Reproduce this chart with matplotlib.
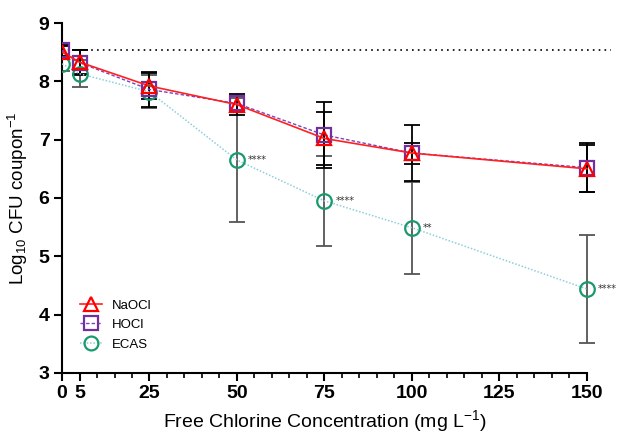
import matplotlib
import numpy as np

matplotlib.use("Agg")
import matplotlib.pyplot as plt
from matplotlib.ticker import FixedLocator

plt.rcParams["font.family"] = ["Liberation Sans", "DejaVu Sans"]
plt.rcParams["mathtext.fontset"] = "custom"
plt.rcParams["mathtext.rm"] = "Liberation Sans"
plt.rcParams["mathtext.it"] = "Liberation Sans:italic"

conc = [0, 5, 25, 50, 75, 100, 150]

naocl = [8.50, 8.33, 7.92, 7.60, 7.02, 6.77, 6.50]
naocl_err = [0.10, 0.20, 0.22, 0.18, 0.45, 0.18, 0.40]
hocl = [8.53, 8.32, 7.86, 7.62, 7.08, 6.77, 6.52]
hocl_err = [0.10, 0.22, 0.30, 0.13, 0.57, 0.48, 0.42]
ecas = [8.30, 8.13, 7.82, 6.65, 5.95, 5.49, 4.44]
ecas_err = [0.13, 0.23, 0.28, 1.07, 0.77, 0.79, 0.92]

sig_x = [50, 75, 100, 150]
sig_y = [6.65, 5.95, 5.49, 4.44]
sig_label = ["****", "****", "**", "****"]

control_level = 8.54

fig = plt.figure(figsize=(6.17, 4.34), dpi=100)
ax = fig.add_axes([0.1005, 0.1406, 0.8905, 0.8064])

ax.axhline(control_level, color="black", linestyle=(0, (1, 2.5)), linewidth=1.2, zorder=1)

ax.errorbar(conc, ecas, yerr=ecas_err, fmt="none", ecolor="#555555", elinewidth=1.3,
            capsize=6, capthick=1.3, zorder=2)
ax.errorbar(conc, hocl, yerr=hocl_err, fmt="none", ecolor="black", elinewidth=1.3,
            capsize=6, capthick=1.3, zorder=3)
ax.errorbar(conc, naocl, yerr=naocl_err, fmt="none", ecolor="black", elinewidth=1.3,
            capsize=6, capthick=1.3, zorder=3)

ax.plot(conc, ecas, color="#8ccfdc", linestyle=(0, (1, 1.2)), linewidth=1.1,
        marker="o", markersize=10.5, markerfacecolor="none", markeredgecolor="#1a9a6c",
        markeredgewidth=1.6, label="ECAS", zorder=4)
ax.plot(conc, hocl, color="#8040c0", linestyle=(0, (2.5, 1.5)), linewidth=1.0,
        marker="s", markersize=10.5, markerfacecolor="none", markeredgecolor="#7030a0",
        markeredgewidth=1.6, label="HOCl", zorder=5)
ax.plot(conc, naocl, color="#ff2020", linestyle="-", linewidth=1.2,
        marker="^", markersize=10.5, markerfacecolor="none", markeredgecolor="#ff0000",
        markeredgewidth=1.6, label="NaOCl", zorder=6)

for x, y, s in zip(sig_x, sig_y, sig_label):
    ax.annotate(s, (x, y), xytext=(8, 0), textcoords="offset points",
                fontsize=7, color="#333333", va="center", ha="left",
                family="DejaVu Sans")

ax.set_xlim(0, 157)
ax.set_ylim(3, 9)
ax.spines["top"].set_visible(False)
ax.spines["right"].set_visible(False)
ax.spines["bottom"].set_bounds(0, 150)
ax.spines["left"].set_linewidth(1.5)
ax.spines["bottom"].set_linewidth(1.5)

ax.set_xticks([0, 5, 25, 50, 75, 100, 125, 150])
ax.xaxis.set_minor_locator(FixedLocator(list(range(0, 151, 5))))
ax.set_yticks([3, 4, 5, 6, 7, 8, 9])
ax.tick_params(axis="both", which="major", length=6, width=1.5, labelsize=14, pad=3)
ax.tick_params(axis="x", which="minor", length=3.5, width=1.2)
for lab in ax.get_xticklabels() + ax.get_yticklabels():
    lab.set_fontweight("bold")

ax.set_xlabel("Free Chlorine Concentration (mg L$^{-1}$)", fontsize=14)
ax.xaxis.set_label_coords(0.479, -0.1)
ax.set_ylabel("Log$_{10}$ CFU coupon$^{-1}$", fontsize=13.5, labelpad=6)

handles, labels = ax.get_legend_handles_labels()
order = [2, 1, 0]
ax.legend([handles[i] for i in order], [labels[i] for i in order], loc="lower left",
          bbox_to_anchor=(0.012, 0.03), frameon=False, fontsize=9.5, handlelength=1.6,
          labelspacing=0.55, markerscale=0.95)

fig.savefig("out.png", dpi=100)
